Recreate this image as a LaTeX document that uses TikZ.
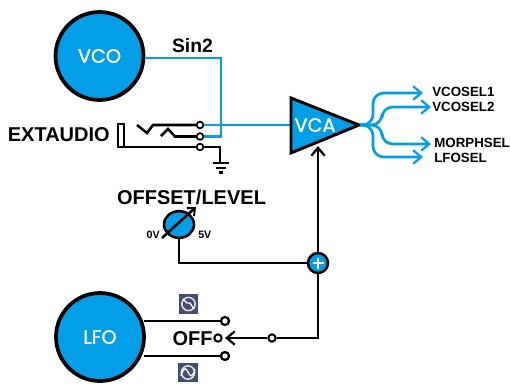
\documentclass[tikz,border=0pt]{standalone}
\usepackage{fontspec}
\setmainfont{Liberation Sans}
\newfontfamily\wfont[FakeBold=1.2]{Poppins}
\usetikzlibrary{arrows.meta,shapes.geometric}
\definecolor{cb}{RGB}{2,158,230}
\definecolor{ic}{RGB}{70,78,112}
\tikzset{x=0.75pt,y=-0.75pt,
 bl/.style={draw=cb,line width=2pt},
 kl/.style={draw=black,line width=1.9pt},
 big/.style={circle,draw=black,fill=cb,line width=2.8pt,minimum size=66pt,inner sep=0pt,text=white,font=\wfont\fontsize{14.5}{14}\selectfont},
 pin/.style={circle,draw=black,fill=white,line width=1.3pt,minimum size=5pt,inner sep=0pt},
 lab/.style={font=\bfseries\fontsize{15}{15}\selectfont,inner sep=0pt},
 sm/.style={font=\bfseries\fontsize{10}{10}\selectfont,inner sep=0pt,anchor=west},
 tiny/.style={font=\bfseries\fontsize{8}{8}\selectfont,inner sep=0pt},
 iconbox/.style={draw=none,fill=ic,minimum size=14.5pt,inner sep=0pt},
 openarr/.style={-{Straight Barb[length=6pt,width=10pt,line width=1.7pt]}},
}
\begin{document}
\begin{tikzpicture}
\useasboundingbox (0,0) rectangle (510,383);
\fill[white] (0,0) rectangle (510,383);
\node[big] (vco) at (99.5,56) {VCO};
\node[big] (lfo) at (100,337) {LFO};
\node[lab,font=\bfseries\fontsize{14.5}{15}\selectfont] (sin) at (192.5,46) {Sin2};
\node[lab,anchor=east] (ext) at (110,135) {EXTAUDIO};
\node[lab] (off) at (191.5,197) {OFFSET/LEVEL};
\node[lab] (offt) at (192.5,339) {OFF};
% jack
\draw[kl,line width=1.5pt] (118,124) rectangle (124,147);
\node[pin] (p1) at (200,125) {};
\node[pin] (p2) at (200,136.5) {};
\node[pin] (p3) at (200,147) {};
% blue
\coordinate (c1) at (221,58);
\coordinate (c2) at (221,136.5);
\coordinate (vin) at (291,125);
\draw[bl] (vco.east |- c1) -- (c1) -- (c2) -- (p2);
\draw[bl] (p1) -- (vin);
% black jack lines
\coordinate (g) at (220,147);
\coordinate (g1) at (220,163);
\coordinate (js) at (118,147);
\draw[kl] (js) -- (p3);
\draw[kl] (p3) -- (g) -- (g1);
\draw[black,line width=1.7pt] (213,163) -- (229,163);
\draw[black,line width=1.7pt] (216,168) -- (226,168);
\draw[black,line width=1.7pt] (219,172.5) -- (223,172.5);
\coordinate (h1) at (137,125);
\coordinate (h2) at (161,136);
\draw[kl] (h1) -- (147,133) -- (153,125) -- (p1);
\draw[kl] (h2) -- (168,129) -- (175,136.5) -- (p2);
% VCA
\draw[black,fill=cb,line width=2.2pt,line join=miter] (291,98) -- (359,125) -- (291,153) -- cycle;
\node[font=\wfont\fontsize{14.5}{14}\selectfont,text=white,inner sep=0pt] (vca) at (315,125) {VCA};
% outputs
\coordinate (o) at (360,125);
\coordinate (o1) at (423,93);
\coordinate (o2) at (431,107);
\coordinate (o3) at (431,144);
\coordinate (o4) at (423,157);
\draw[bl,openarr,rounded corners=8pt] (o) -- (373,125) -- (373,93) -- (o1);
\draw[bl,openarr,rounded corners=8pt] (o) -- (382,125) -- (382,107) -- (o2);
\draw[bl,openarr,rounded corners=8pt] (o) -- (382,125) -- (382,144) -- (o3);
\draw[bl,openarr,rounded corners=8pt] (o) -- (373,125) -- (373,157) -- (o4);
\node[sm] (s1) at (432,92) {VCOSEL1};
\node[sm] (s2) at (432,107) {VCOSEL2};
\node[sm] (s3) at (434,143) {MORPHSEL};
\node[sm] (s4) at (434,158) {LFOSEL};
% pot
\node[ellipse,draw=black,fill=cb,line width=1.9pt,minimum width=22.5pt,minimum height=20pt,inner sep=0pt] (pot) at (179,224.5) {};
\coordinate (pa) at (162,238);
\coordinate (pb) at (196,207);
\draw[kl,-{Straight Barb[length=4.5pt,width=8pt,line width=1.5pt]}] (pa) -- (pb);
\node[tiny,anchor=east] (v0) at (160,235) {0V};
\node[tiny,anchor=west] (v5) at (198,235) {5V};
% sum
\node[circle,draw=black,fill=cb,line width=1.9pt,minimum size=15pt,inner sep=0pt] (sum) at (318,263) {};
\draw[white,line width=1.8pt] (312.5,263) -- (323.5,263) (318,257.5) -- (318,268.5);
\coordinate (kn) at (179,263);
\draw[kl] (pot) -- (kn) -- (sum);
\coordinate (vbot) at (318,146);
\draw[kl,openarr] (sum) -- (vbot);
% LFO switch
\node[pin,minimum size=6pt,line width=1.7pt] (a) at (225,321) {};
\node[pin,minimum size=5.5pt,line width=1.5pt] (b) at (218,338) {};
\node[pin,minimum size=6pt,line width=1.7pt] (c) at (225,356) {};
\node[pin,minimum size=5.5pt,line width=1.5pt] (d) at (272,338) {};
\draw[kl] (lfo.east |- a) ++(-1.5,0) -- (a);
\draw[kl] (lfo.east |- c) ++(-1.5,0) -- (c);
\coordinate (bt) at (225,338);
\draw[kl,openarr] (d) -- (bt);
\coordinate (r) at (318,338);
\draw[kl] (sum) -- (r) -- (d);
% icons
\node[iconbox] (i1) at (188.5,304) {};
\draw[white!85!ic,line width=1.1pt] (i1) circle (5pt);
\draw[white,line width=1pt] (183,299) -- (187,303) -- (190,303) -- (194,309);
\node[iconbox] (i2) at (188,372.5) {};
\draw[white!85!ic,line width=1.1pt] (i2) circle (5pt);
\draw[white,line width=1pt] (181,376) .. controls (184,366) and (186,368) .. (188,372) .. controls (190,376) and (192,379) .. (195,369);
\end{tikzpicture}
\end{document}
